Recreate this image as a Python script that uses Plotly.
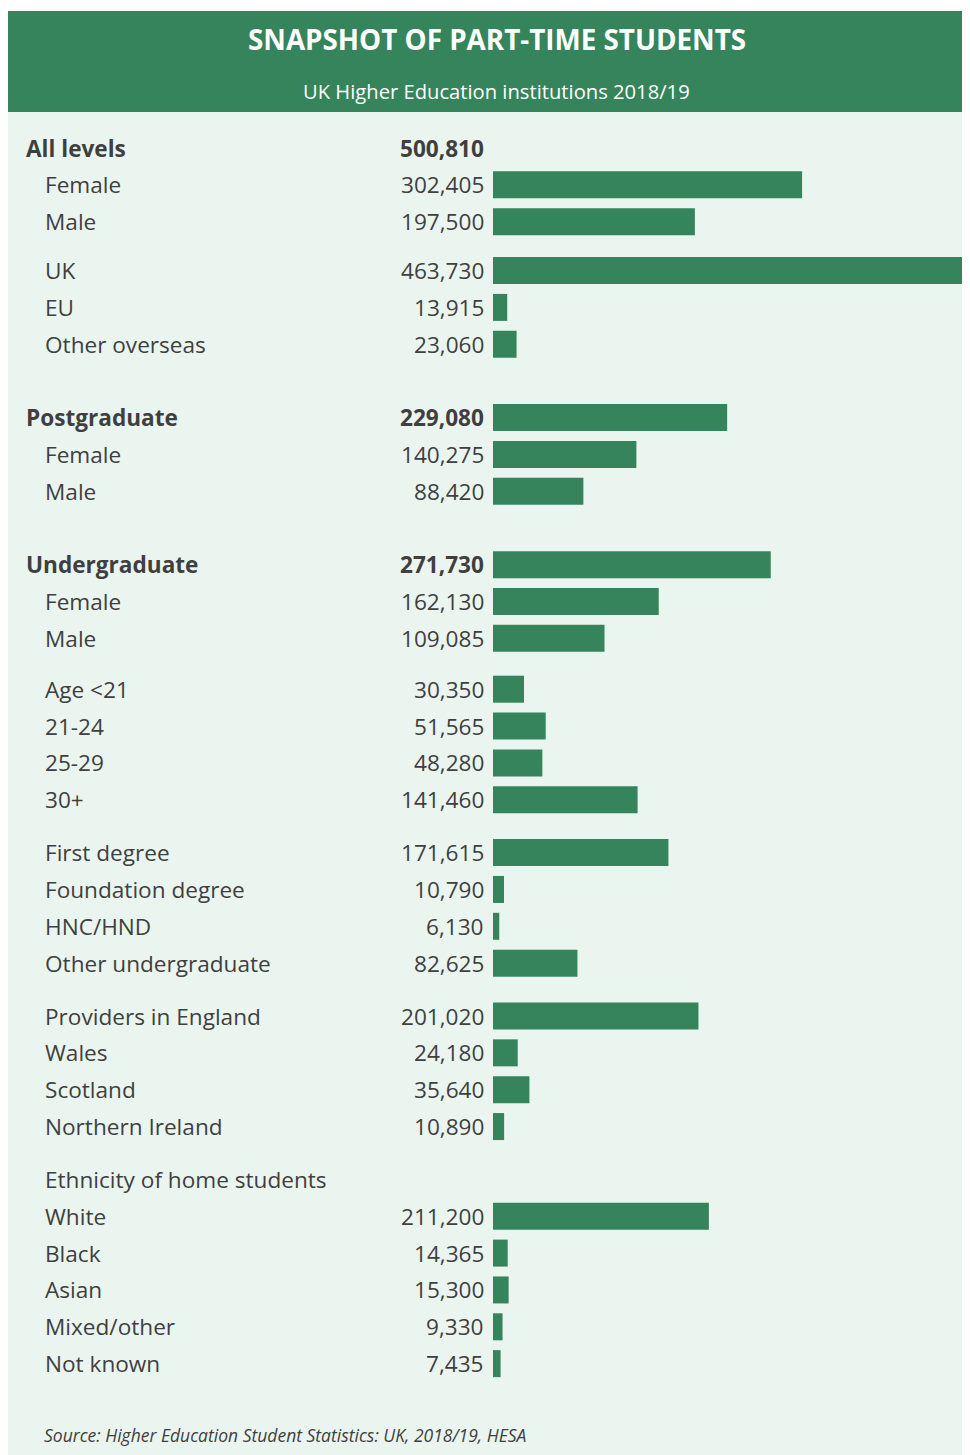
import plotly.graph_objects as go

# ---------------- data ----------------
labels = ["All levels", "Female", "Male", "UK", "EU", "Other overseas",
          "Postgraduate", "Female", "Male",
          "Undergraduate", "Female", "Male",
          "Age <21", "21-24", "25-29", "30+",
          "First degree", "Foundation degree", "HNC/HND", "Other undergraduate",
          "Providers in England", "Wales", "Scotland", "Northern Ireland",
          "Ethnicity of home students", "White", "Black", "Asian", "Mixed/other", "Not known"]
values = [500810, 302405, 197500, 463730, 13915, 23060,
          229080, 140275, 88420,
          271730, 162130, 109085,
          30350, 51565, 48280, 141460,
          171615, 10790, 6130, 82625,
          201020, 24180, 35640, 10890,
          None, 211200, 14365, 15300, 9330, 7435]
headers = ["All levels", "Postgraduate", "Undergraduate"]
no_bar = ["All levels", "Ethnicity of home students"]

# ---------------- layout (styling) ----------------
W, H = 962, 1455
OFF = 8  # page body margin offset
STEP = 36.85
extra_gap = {3: 12, 6: 36.5, 9: 36.5, 12: 14, 16: 16, 20: 16, 24: 16}
TOP = 148 - OFF

ys = []
y = TOP
for i in range(len(labels)):
    if i > 0:
        y += STEP + extra_gap.get(i, 0)
    ys.append(y)

BAR_X0 = 493 - OFF
BAR_FULL = 474  # px length for the UK bar
UKV = 463730
xmax = UKV * (W - BAR_X0) / BAR_FULL

GREEN = "#35845B"
BG = "#EBF5EF"
TXT = "#3F3F3F"
FONT = "Open Sans"
FS = 22.6

bar_y = [ys[i] for i in range(len(labels)) if labels[i] not in no_bar and values[i] is not None]
bar_x = [values[i] for i in range(len(labels)) if labels[i] not in no_bar and values[i] is not None]

fig = go.Figure()
fig.add_trace(go.Bar(
    x=bar_x, y=bar_y, orientation="h", width=27,
    marker=dict(color=GREEN, line=dict(width=0)),
    hoverinfo="skip", showlegend=False,
))

ann = []
for i, lab in enumerate(labels):
    is_head = lab in headers
    ann.append(dict(
        x=((24 if is_head else 43) - OFF) / W, xref="paper", y=ys[i], yref="y",
        text=(f"<b>{lab}</b>" if is_head else lab),
        xanchor="left", yanchor="middle", showarrow=False,
        font=dict(family=FONT, size=FS, color=TXT),
    ))
    if values[i] is not None:
        v = f"{values[i]:,}"
        ann.append(dict(
            x=(486 - OFF) / W, xref="paper", y=ys[i], yref="y",
            text=(f"<b>{v}</b>" if is_head else v),
            xanchor="right", yanchor="middle", showarrow=False,
            font=dict(family=FONT, size=FS, color=TXT),
        ))

# title
ann.append(dict(x=(496.5 - OFF) / W, xref="paper", y=39 - OFF, yref="y",
                text="<b>SNAPSHOT OF PART-TIME STUDENTS</b>",
                xanchor="center", yanchor="middle", showarrow=False,
                font=dict(family=FONT, size=27.8, color="white")))
ann.append(dict(x=(496.5 - OFF) / W, xref="paper", y=91 - OFF, yref="y",
                text="UK Higher Education institutions 2018/19",
                xanchor="center", yanchor="middle", showarrow=False,
                font=dict(family=FONT, size=20.2, color="white")))
# source
ann.append(dict(x=(42 - OFF) / W, xref="paper", y=1435 - OFF, yref="y",
                text="<i>Source: Higher Education Student Statistics: UK, 2018/19, HESA</i>",
                xanchor="left", yanchor="middle", showarrow=False,
                font=dict(family=FONT, size=17.5, color=TXT)))

shapes = [
    dict(type="rect", xref="paper", yref="paper", x0=0, x1=1, y0=0, y1=1 - (112 - OFF) / H,
         fillcolor=BG, line=dict(width=0), layer="below"),
    dict(type="rect", xref="paper", yref="paper", x0=0, x1=1,
         y0=1 - (112 - OFF) / H, y1=1 - (11 - OFF) / H,
         fillcolor=GREEN, line=dict(width=0), layer="below"),
]

fig.update_layout(
    width=W, height=H,
    margin=dict(l=0, r=0, t=0, b=0),
    paper_bgcolor="white", plot_bgcolor="rgba(0,0,0,0)",
    xaxis=dict(domain=[BAR_X0 / W, 1], range=[0, xmax], visible=False, fixedrange=True),
    yaxis=dict(domain=[0, 1], range=[H, 0], visible=False, fixedrange=True),
    annotations=ann, shapes=shapes,
    font=dict(family=FONT),
)

fig.write_html("out.html")
